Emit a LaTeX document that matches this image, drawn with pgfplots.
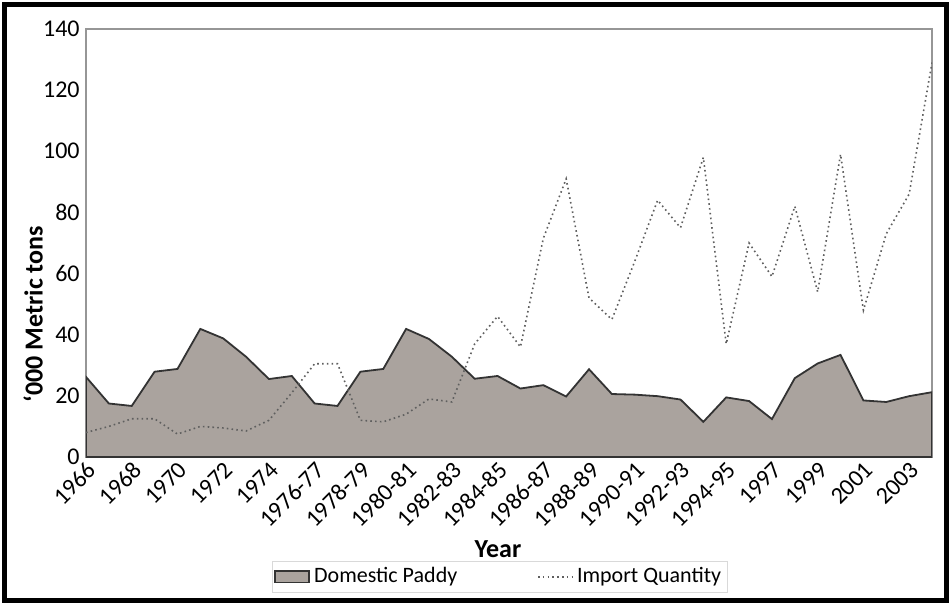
\documentclass[border=0pt]{standalone}
\usepackage{fontspec}
\setmainfont{Carlito}
\usepackage{pgfplots}
\pgfplotsset{compat=1.18}
\definecolor{paddy}{RGB}{170,163,158}
\definecolor{axgray}{RGB}{150,150,150}
\definecolor{impgray}{RGB}{95,95,95}
\begin{document}
\begin{tikzpicture}
\draw[line width=2.5pt] (2.25pt,2.25pt) rectangle (473.25pt,300.25pt);
\begin{axis}[at={(43pt,74pt)}, anchor=south west, width=423pt, height=214pt, scale only axis,
 xmin=0,xmax=37,ymin=0,ymax=140,
 xtick={0,2,...,36},
 xticklabels={1966,1968,1970,1972,1974,1976-77,1978-79,1980-81,1982-83,1984-85,1986-87,1988-89,1990-91,1992-93,1994-95,1997,1999,2001,2003},
 ytick={0,20,...,140},
 major tick length=0pt,
 axis line style={axgray, line width=0.75pt},
 tick label style={font=\fontsize{12}{14}\selectfont},
 /pgf/number format/assume math mode=true,
 xticklabel style={rotate=45, anchor=north east, inner sep=1pt},
 yticklabel style={inner sep=2pt, xshift=-1pt},
 xlabel={Year}, ylabel={‘000 Metric tons},
 label style={font=\fontsize{13}{15}\selectfont\bfseries},
 xlabel style={at={(rel axis cs:0.487,-0.215)}, anchor=center},
 ylabel style={at={(rel axis cs:-0.0626,0.334)}, anchor=center},
 legend style={at={(0.489,-0.28)}, anchor=center, legend columns=2, draw=black!15,
   font=\fontsize{11}{13}\selectfont, inner sep=1pt,
   /tikz/every even column/.append style={column sep=38pt}},
]
\addplot[fill=paddy, draw=black!80, line width=0.9pt, area legend] table {
0 26.2
1 17.5
2 16.7
3 27.9
4 28.8
5 41.9
6 38.8
7 32.8
8 25.5
9 26.5
10 17.5
11 16.7
12 27.9
13 28.8
14 41.9
15 38.6
16 32.8
17 25.6
18 26.5
19 22.4
20 23.5
21 19.8
22 28.7
23 20.6
24 20.4
25 19.9
26 18.8
27 11.5
28 19.5
29 18.3
30 12.4
31 25.8
32 30.6
33 33.4
34 18.5
35 18.0
36 19.9
37 21.2
} \closedcycle;
\addlegendentry{Domestic Paddy}
\addplot[impgray, line width=0.8pt, dash pattern=on 0.8pt off 1.6pt] table {
0 8
1 10
2 12.5
3 12.5
4 7.5
5 10
6 9.5
7 8.5
8 12
9 21
10 30.5
11 30.5
12 12
13 11.5
14 14
15 19
16 18
17 37
18 46
19 36
20 71.5
21 91
22 52
23 45
24 64
25 84
26 75
27 98
28 37
29 70
30 59
31 82
32 54
33 99
34 48
35 73
36 86
37 129
};
\addlegendentry{Import Quantity}
\end{axis}
\pgfresetboundingbox
\path (0,0) rectangle (475.5pt,302.5pt);
\end{tikzpicture}
\end{document}
